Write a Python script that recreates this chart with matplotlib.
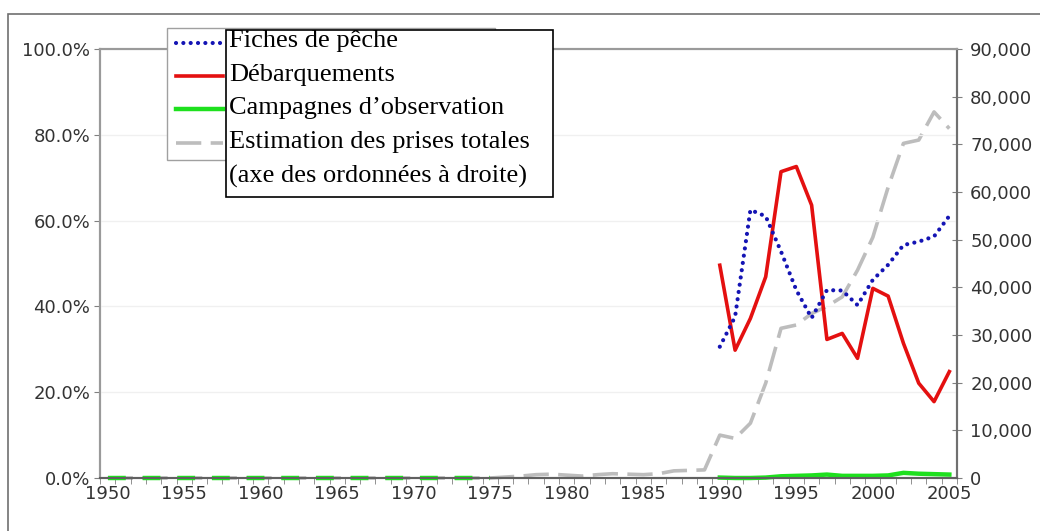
import matplotlib
matplotlib.use("Agg")
import matplotlib.pyplot as plt
import numpy as np
from matplotlib.patches import Rectangle
from matplotlib.ticker import FuncFormatter

# data
years_early = list(range(1950, 1976))
years_all = list(range(1950, 2006))
years_recent = list(range(1990, 2006))

fiches_pct = [30.6, 37.6, 62.5, 61.0, 52.8, 43.8, 37.3, 43.8, 43.7, 40.3,
              46.2, 49.7, 54.3, 55.1, 56.3, 61.1]
debarq_pct = [49.6, 29.8, 37.2, 46.9, 71.4, 72.6, 63.6, 32.3, 33.7, 27.9,
              44.2, 42.4, 31.4, 22.1, 17.8, 24.8]
campagnes_early_pct = [0.0] * 26
campagnes_pct = [0.1, 0.0, 0.0, 0.1, 0.4, 0.5, 0.6, 0.8, 0.5, 0.5,
                 0.5, 0.6, 1.2, 1.0, 0.9, 0.8]
prises_totales = ([0] * 26 +
                  [200, 400, 700, 800, 600, 400, 700, 900, 800, 700,
                   900, 1500, 1600, 1700] +
                  [9000, 8300, 11500, 19900, 31400, 32100, 34500, 36000,
                   38000, 43600, 50500, 61000, 70200, 70900, 76800, 73300])

xtick_years = list(range(1950, 2006, 5))
legend_lines = ["Fiches de pêche", "Débarquements", "Campagnes d’observation",
                "Estimation des prises totales", "(axe des ordonnées à droite)"]

W, H = 1040, 531
fig = plt.figure(figsize=(W / 100, H / 100), dpi=100)
fig.patch.set_facecolor("white")

# outer frame (left and top edges visible)
fig.add_artist(Rectangle((8 / W, -0.05), 1.2, 1 - 14 / H + 0.05,
                         transform=fig.transFigure, fill=False,
                         edgecolor="#707070", linewidth=1.2))

ax = fig.add_axes([100 / W, 1 - 478 / H, 857 / W, 429 / H])
ax2 = ax.twinx()
ax.set_zorder(ax2.get_zorder() + 1)
ax.patch.set_visible(False)

blue = "#1414b4"
red = "#e41010"
green = "#1ee01e"
grey = "#bdbdbd"

l_prises, = ax2.plot(years_all, prises_totales, color=grey, linewidth=2.6,
                     linestyle=(0, (7, 2.6)), clip_on=False)
ax.plot(years_early, campagnes_early_pct, color=green, linewidth=3.2,
        linestyle=(0, (4, 3.8)), clip_on=False)
l_camp, = ax.plot(years_recent, campagnes_pct, color=green, linewidth=3.2,
                  clip_on=False)
l_deb, = ax.plot(years_recent, debarq_pct, color=red, linewidth=2.6)
l_fic, = ax.plot(years_recent, fiches_pct, color=blue, linewidth=3.0,
                 linestyle=(0, (0.01, 1.75)), dash_capstyle="round")

ax.set_xlim(1949.5, 2005.5)
ax.set_ylim(0, 100)
ax2.set_ylim(0, 90000)

ax.set_xticks(xtick_years)
ax.set_xticks(np.arange(1949.5, 2006, 1), minor=True)
ax.set_yticks(np.arange(0, 101, 20))
ax2.set_yticks(np.arange(0, 90001, 10000))
ax.yaxis.set_major_formatter(FuncFormatter(lambda v, p: f"{v:.1f}%"))
ax2.yaxis.set_major_formatter(FuncFormatter(lambda v, p: f"{int(v):,}"))

tick_font = dict(labelsize=13, labelcolor="#333333", colors="#808080")
ax.tick_params(axis="x", which="major", length=0, pad=5, **tick_font)
ax.tick_params(axis="x", which="minor", length=4, color="#808080")
ax.tick_params(axis="y", which="major", length=4, direction="out", pad=3,
               **tick_font)
ax2.tick_params(axis="y", which="major", length=7, direction="inout", pad=6,
                **tick_font)

ax.yaxis.grid(True, color="#f0f0f0", linewidth=1)
ax.set_axisbelow(True)

for a in (ax, ax2):
    a.spines["top"].set_color("#9a9a9a")
    a.spines["left"].set_color("#9a9a9a")
    a.spines["right"].set_color("#707070")
    a.spines["bottom"].set_color("#606060")
    for s in a.spines.values():
        s.set_linewidth(1.5)

# legend frame with line samples
fig.legend(handles=[l_fic, l_deb, l_camp, l_prises], labels=[""] * 4,
           loc="upper left", mode="expand",
           bbox_to_anchor=(167 / W, 0, (495 - 167) / W, 1 - 28 / H),
           bbox_transform=fig.transFigure, borderaxespad=0,
           fontsize=10, labelspacing=1.38, borderpad=0.65, handlelength=3.4,
           handletextpad=0.5, fancybox=False, framealpha=1,
           edgecolor="#a0a0a0")

# text box covering the legend labels
fig.add_artist(Rectangle((226 / W, 1 - 197 / H), (553 - 226) / W, 167 / H,
                         transform=fig.transFigure, facecolor="white",
                         edgecolor="black", linewidth=1.2, zorder=10))
fig.text(229 / W, 1 - 30 / H, "\n".join(legend_lines),
         family="Liberation Serif", fontsize=19, linespacing=1.68,
         color="black", ha="left", va="top", zorder=11)

fig.savefig("out.png", dpi=100, facecolor="white")
